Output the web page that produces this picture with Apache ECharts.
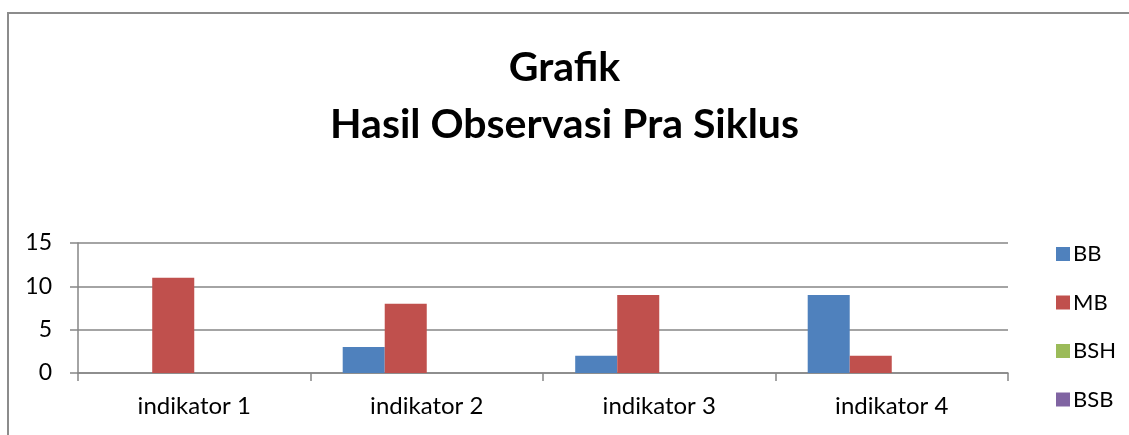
<!DOCTYPE html>
<html><head><meta charset="utf-8">
<script src="https://cdn.jsdelivr.net/npm/echarts@6/dist/echarts.min.js"></script>
<style>html,body{margin:0;padding:0;background:#fff}#c{width:1129px;height:435px}</style>
</head><body><div id="c"></div>
<script>
const categories = ['indikator 1', 'indikator 2', 'indikator 3', 'indikator 4'];
const seriesNames = ['BB', 'MB', 'BSH', 'BSB'];
const BB = [0, 3, 2, 9];
const MB = [11, 8, 9, 2];
const BSH = [0, 0, 0, 0];
const BSB = [0, 0, 0, 0];
const colors = ['#4F81BD', '#C0504D', '#9BBB59', '#8064A2'];
const values = [BB, MB, BSH, BSB];

const chart = echarts.init(document.getElementById('c'), null, {renderer: 'canvas'});
const font = 'Lato, "Open Sans", sans-serif';
chart.setOption({
  animation: false,
  color: colors,
  graphic: [{
    type: 'rect', shape: {x: 8, y: 13, width: 1200, height: 500},
    style: {fill: 'none', stroke: '#8c8c8c', lineWidth: 2}, silent: true
  }],
  title: {
    text: 'Grafik\nHasil Observasi Pra Siklus',
    left: 'center', top: 34,
    textStyle: {fontFamily: font, fontWeight: 'bold', fontSize: 41, lineHeight: 57, color: '#000'}
  },
  legend: {
    orient: 'vertical', left: 1051, top: 238,
    itemWidth: 14, itemHeight: 14, itemGap: 26.5,
    icon: 'rect',
    data: seriesNames,
    textStyle: {fontFamily: font, fontSize: 22, lineHeight: 18, color: '#000', padding: [0,0,0,-2]}
  },
  grid: {left: 78, right: 121, top: 243, bottom: 62, containLabel: false},
  xAxis: {
    type: 'category', data: categories,
    axisLine: {lineStyle: {color: '#868686', width: 1.5}},
    axisTick: {show: true, length: 8, lineStyle: {color: '#868686', width: 1.5}},
    axisLabel: {fontFamily: font, fontSize: 24, color: '#000', margin: 21}
  },
  yAxis: {
    type: 'value', min: 0, max: 15, interval: 5,
    axisLine: {show: true, lineStyle: {color: '#868686', width: 1.5}},
    axisTick: {show: true, length: 8, lineStyle: {color: '#868686', width: 1.5}},
    splitLine: {lineStyle: {color: '#868686', width: 1.5}},
    axisLabel: {fontFamily: font, fontSize: 23, color: '#000', margin: 26}
  },
  series: seriesNames.map((n, i) => ({
    name: n, type: 'bar', data: values[i],
    barGap: '0%', barCategoryGap: '27.7%',
    itemStyle: {color: colors[i]}
  }))
});
</script></body></html>
